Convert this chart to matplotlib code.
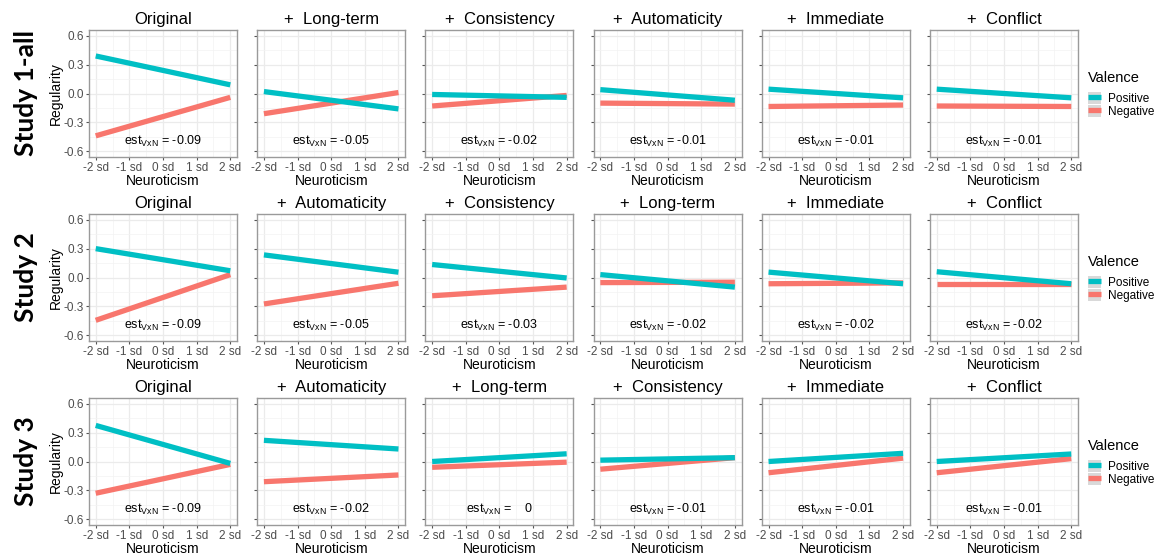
import matplotlib
matplotlib.use("Agg")
from matplotlib import pyplot as plt
from matplotlib.lines import Line2D
from matplotlib.patches import Patch
from matplotlib.legend_handler import HandlerTuple
from matplotlib.ticker import MultipleLocator

plt.rcParams['font.family'] = ['Liberation Sans', 'DejaVu Sans']
plt.rcParams['mathtext.fontset'] = 'custom'
plt.rcParams['mathtext.rm'] = 'Liberation Sans'
plt.rcParams['mathtext.default'] = 'regular'
plt.rcParams['axes.unicode_minus'] = False

# x 轴: 神经质 -2 sd .. 2 sd
x_sd = [-2, 2]
x_ticks = [-2, -1, 0, 1, 2]
x_tick_labels = ['-2 sd', '-1 sd', '0 sd', '1 sd', '2 sd']
y_ticks = [-0.6, -0.3, 0.0, 0.3, 0.6]
y_tick_labels = ['-0.6', '-0.3', '0.0', '0.3', '0.6']

study_labels = ['Study 1-all', 'Study 2', 'Study 3']

# Study 1-all
titles_1 = ['Original', '+  Long-term', '+  Consistency', '+  Automaticity', '+  Immediate', '+  Conflict']
pos_1 = [[0.39, 0.09], [0.02, -0.16], [-0.01, -0.04], [0.04, -0.07], [0.045, -0.045], [0.045, -0.045]]
neg_1 = [[-0.44, -0.04], [-0.21, 0.01], [-0.13, -0.02], [-0.10, -0.11], [-0.135, -0.12], [-0.13, -0.135]]
est_1 = ['-0.09', '-0.05', '-0.02', '-0.01', '-0.01', '-0.01']

# Study 2
titles_2 = ['Original', '+  Automaticity', '+  Consistency', '+  Long-term', '+  Immediate', '+  Conflict']
pos_2 = [[0.30, 0.07], [0.235, 0.055], [0.135, -0.005], [0.03, -0.10], [0.056, -0.065], [0.06, -0.065]]
neg_2 = [[-0.445, 0.03], [-0.275, -0.06], [-0.19, -0.10], [-0.053, -0.049], [-0.065, -0.056], [-0.063, -0.063]]
est_2 = ['-0.09', '-0.05', '-0.03', '-0.02', '-0.02', '-0.02']

# Study 3
titles_3 = ['Original', '+  Automaticity', '+  Long-term', '+  Consistency', '+  Immediate', '+  Conflict']
pos_3 = [[0.375, -0.02], [0.22, 0.13], [0.0, 0.08], [0.014, 0.04], [0.0, 0.085], [0.0, 0.078]]
neg_3 = [[-0.33, -0.03], [-0.21, -0.14], [-0.06, -0.007], [-0.08, 0.04], [-0.117, 0.035], [-0.117, 0.03]]
est_3 = ['-0.09', '-0.02', '   0', '-0.01', '-0.01', '-0.01']

rows = [(titles_1, pos_1, neg_1, est_1),
        (titles_2, pos_2, neg_2, est_2),
        (titles_3, pos_3, neg_3, est_3)]

col_pos = '#00BFC4'
col_neg = '#F8766D'
W, H = 1165, 554

fig = plt.figure(figsize=(W / 100, H / 100), dpi=100)

for r, (titles, pos, neg, est) in enumerate(rows):
    for c in range(6):
        left = (89 + c * 168.2) / W
        bottom = 1 - (157 + r * 184) / H
        ax = fig.add_axes([left, bottom, 148 / W, 127 / H])

        ax.plot(x_sd, neg[c], color=col_neg, lw=3.8, solid_capstyle='butt', zorder=3)
        ax.plot(x_sd, pos[c], color=col_pos, lw=3.8, solid_capstyle='butt', zorder=3)

        ax.set_xlim(-2.2, 2.2)
        ax.set_ylim(-0.66, 0.66)
        ax.set_xticks(x_ticks)
        ax.set_xticklabels(x_tick_labels)
        ax.set_yticks(y_ticks)
        if c == 0:
            ax.set_yticklabels(y_tick_labels)
            ax.set_ylabel('Regularity', fontsize=10, labelpad=1)
        else:
            ax.set_yticklabels([])
        ax.xaxis.set_minor_locator(MultipleLocator(0.5))
        ax.yaxis.set_minor_locator(MultipleLocator(0.15))
        ax.tick_params(which='major', length=2.5, width=0.8, color='#555555',
                       labelsize=8.5, labelcolor='#4D4D4D', pad=1)
        ax.tick_params(which='minor', length=0)
        ax.grid(which='major', color='#EBEBEB', lw=0.9, zorder=0)
        ax.grid(which='minor', color='#F3F3F3', lw=0.5, zorder=0)
        ax.set_axisbelow(True)
        for s in ax.spines.values():
            s.set_color('#9A9A9A')
            s.set_linewidth(1.0)

        ax.set_title(titles[c], fontsize=12, pad=4)
        ax.set_xlabel('Neuroticism', fontsize=10, labelpad=0)
        ax.text(0, -0.5, r'est$_{VxN}$ = ' + est[c], ha='center', va='center', fontsize=9)

        if c == 5:
            # 图例: Valence
            handles = [(Patch(facecolor='#D9D9D9', edgecolor='none'),
                        Line2D([], [], color=col_pos, lw=3.8, solid_capstyle='butt')),
                       (Patch(facecolor='#D9D9D9', edgecolor='none'),
                        Line2D([], [], color=col_neg, lw=3.8, solid_capstyle='butt'))]
            ax.legend(handles, ['Positive', 'Negative'],
                      handler_map={tuple: HandlerTuple(ndivide=1, pad=0)},
                      fontsize=8.5, loc='upper left', bbox_to_anchor=(1.065, 0.515),
                      frameon=False, borderpad=0, borderaxespad=0,
                      handlelength=1.1, handleheight=1.2,
                      handletextpad=0.6, labelspacing=0)
            ax.text(1.065, 0.625, 'Valence', transform=ax.transAxes,
                    ha='left', va='center', fontsize=10.5)

    fig.text(26 / W, 1 - (93.5 + r * 184) / H, study_labels[r], rotation=90,
             ha='center', va='center', fontsize=19, fontweight='bold', family='Lato')

plt.savefig('out.png', dpi=100)
